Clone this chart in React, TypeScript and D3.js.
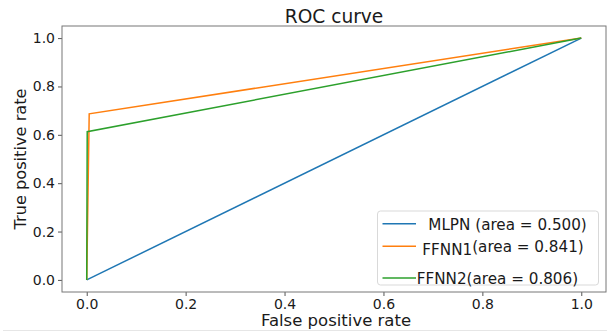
import { useRef, useEffect } from 'react'
import * as d3 from 'd3'

// ROC points
const mlpnFpr = [0, 1]
const mlpnTpr = [0, 1]
const ffnn1Fpr = [0, 0.005, 1]
const ffnn1Tpr = [0, 0.687, 1]
const ffnn2Fpr = [0, 0.001, 1]
const ffnn2Tpr = [0, 0.613, 1]

const seriesNames = ['MLPN', 'FFNN1', 'FFNN2']
const seriesAreas = [0.5, 0.841, 0.806]
const seriesColors = ['#1f77b4', '#ff7f0e', '#2ca02c']

const xTicks = [0, 0.2, 0.4, 0.6, 0.8, 1.0]
const yTicks = [0, 0.2, 0.4, 0.6, 0.8, 1.0]

const FONT = 'DejaVu Sans, sans-serif'

const App = () => {
  const ref = useRef<SVGSVGElement>(null)

  useEffect(() => {
    const svg = d3.select(ref.current)
    svg.selectAll('*').remove()

    const width = 607
    const height = 334
    const left = 62
    const right = 606
    const top = 26
    const bottom = 292

    svg.attr('width', width).attr('height', height)

    const x = d3.scaleLinear().domain([-0.05, 1.05]).range([left, right])
    const y = d3.scaleLinear().domain([-0.05, 1.05]).range([bottom, top])

    // faint border line at the bottom of the image
    svg.append('line')
      .attr('x1', 3).attr('x2', width)
      .attr('y1', 330.5).attr('y2', 330.5)
      .style('stroke', '#e6e6e6')
      .style('stroke-width', 1)

    const series = [
      mlpnFpr.map((f, i) => [f, mlpnTpr[i]]),
      ffnn1Fpr.map((f, i) => [f, ffnn1Tpr[i]]),
      ffnn2Fpr.map((f, i) => [f, ffnn2Tpr[i]]),
    ]

    const line = d3.line<number[]>()
      .x((d) => x(d[0]))
      .y((d) => y(d[1]))

    svg.append('g')
      .selectAll('path')
      .data(series)
      .enter()
      .append('path')
      .attr('d', line)
      .style('fill', 'none')
      .style('stroke', (d, i) => seriesColors[i])
      .style('stroke-width', 1.5)

    // x axis
    const xAxis = svg.append('g')
      .attr('transform', `translate(0, ${bottom})`)
      .call(d3.axisBottom(x).tickValues(xTicks).tickFormat(d3.format('.1f')).tickSize(4).tickPadding(3))
    xAxis.select('.domain').remove()

    // y axis
    const yAxis = svg.append('g')
      .attr('transform', `translate(${left}, 0)`)
      .call(d3.axisLeft(y).tickValues(yTicks).tickFormat(d3.format('.1f')).tickSize(4).tickPadding(3))
    yAxis.select('.domain').remove()

    svg.selectAll('.tick line').style('stroke', '#555').style('stroke-width', 1)
    svg.selectAll('.tick text')
      .style('font-family', FONT)
      .style('font-size', '14px')
      .style('fill', '#1a1a1a')

    // spines
    svg.append('rect')
      .attr('x', left).attr('y', top)
      .attr('width', right - left).attr('height', bottom - top)
      .style('fill', 'none')
      .style('stroke', '#777')
      .style('stroke-width', 1)

    // title and labels
    svg.append('text')
      .attr('x', (left + right) / 2).attr('y', 22.5)
      .attr('text-anchor', 'middle')
      .style('font-family', FONT).style('font-size', '18.6px').style('fill', '#1a1a1a')
      .text('ROC curve')

    svg.append('text')
      .attr('x', 336).attr('y', 326)
      .attr('text-anchor', 'middle')
      .style('font-family', FONT).style('font-size', '16.5px').style('fill', '#1a1a1a')
      .text('False positive rate')

    svg.append('text')
      .attr('transform', `translate(26, ${(top + bottom) / 2}) rotate(-90)`)
      .attr('text-anchor', 'middle')
      .style('font-family', FONT).style('font-size', '16.2px').style('fill', '#1a1a1a')
      .text('True positive rate')

    // legend
    const legend = svg.append('g')
    legend.append('rect')
      .attr('x', 377.5).attr('y', 211)
      .attr('width', 221).attr('height', 74)
      .attr('rx', 3)
      .style('fill', 'white')
      .style('fill-opacity', 0.8)
      .style('stroke', '#d9d9d9')
      .style('stroke-width', 1)

    const lineY = [223.7, 246.3, 278]
    const textX = [428.3, 422.3, 416.7]
    const textBase = [230, 252, 283.5]
    const nameShift = [0, 2.6, 0]

    seriesNames.forEach((name, i) => {
      legend.append('line')
        .attr('x1', 382.5).attr('x2', 416)
        .attr('y1', lineY[i]).attr('y2', lineY[i])
        .style('stroke', seriesColors[i])
        .style('stroke-width', 1.5)

      const t = legend.append('text')
        .attr('x', textX[i]).attr('y', textBase[i])
        .style('font-family', FONT).style('font-size', '15.2px').style('fill', '#1a1a1a')
      t.append('tspan')
        .attr('dy', nameShift[i])
        .text(name)
      t.append('tspan')
        .attr('dy', -nameShift[i])
        .text(`${i === 0 ? ' ' : ''}(area = ${seriesAreas[i].toFixed(3)})`)
    })
  }, [])

  return (
    <svg ref={ref} style={{ position: 'absolute', left: 0, top: 0 }} />
  )
}

export default App
